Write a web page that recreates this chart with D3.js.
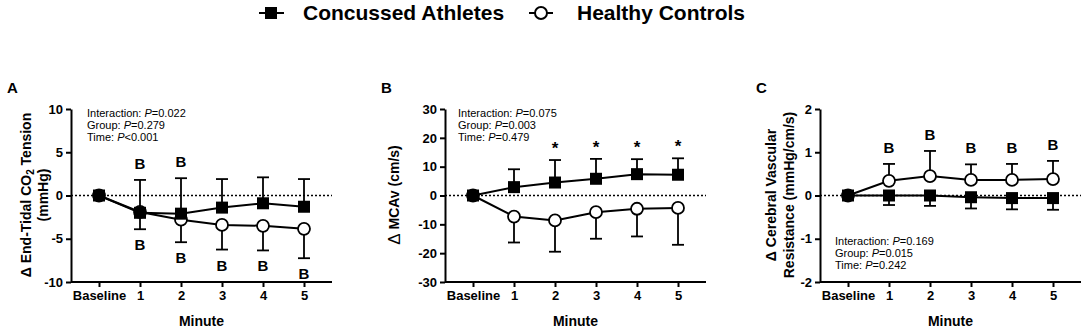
<!DOCTYPE html>
<html>
<head>
<meta charset="utf-8">
<script src="https://d3js.org/d3.v7.min.js"></script>
<style>
  body { margin: 0; background: #fff; }
  svg { font-family: "Liberation Sans", Arial, sans-serif; display: block; }
</style>
</head>
<body>
<div id="chart"></div>
<script>
// x categories
var minutes = ["Baseline", "1", "2", "3", "4", "5"];

// panel A - end-tidal CO2
var etco2Concussed = [0, -2.0, -2.1, -1.4, -0.9, -1.3];
var etco2ConcussedSD = [0, 3.8, 4.1, 3.3, 3.0, 3.2];
var etco2Controls = [0, -1.9, -2.8, -3.4, -3.5, -3.85];
var etco2ControlsSD = [0, 2.0, 2.6, 2.85, 2.85, 3.4];

// panel B - MCAv
var mcavConcussed = [0, 2.9, 4.5, 5.8, 7.4, 7.2];
var mcavConcussedSD = [0, 6.2, 7.8, 6.9, 5.2, 5.7];
var mcavControls = [0, -7.3, -8.65, -5.8, -4.6, -4.3];
var mcavControlsSD = [0, 9.0, 10.85, 9.2, 9.6, 12.8];

// panel C - CVR
var cvrConcussed = [0, 0, 0, -0.04, -0.06, -0.06];
var cvrConcussedSD = [0, 0.22, 0.24, 0.26, 0.26, 0.27];
var cvrControls = [0, 0.34, 0.45, 0.36, 0.36, 0.38];
var cvrControlsSD = [0, 0.39, 0.58, 0.36, 0.37, 0.42];

var ticksA = [-10, -5, 0, 5, 10];
var ticksB = [-30, -20, -10, 0, 10, 20, 30];
var ticksC = [-2, -1, 0, 1, 2];

var statsA = [["Interaction: ", "=0.022"], ["Group: ", "=0.279"], ["Time: ", "<0.001"]];
var statsB = [["Interaction: ", "=0.075"], ["Group: ", "=0.003"], ["Time: ", "=0.479"]];
var statsC = [["Interaction: ", "=0.169"], ["Group: ", "=0.015"], ["Time: ", "=0.242"]];

var width = 1084, height = 329;
var svg = d3.select("#chart").append("svg")
    .attr("width", width).attr("height", height);

// legend
var lg = svg.append("g");
lg.append("line").attr("x1", 259).attr("x2", 284).attr("y1", 13).attr("y2", 13)
    .attr("stroke", "#000").attr("stroke-width", 2);
lg.append("rect").attr("x", 265).attr("y", 7).attr("width", 12).attr("height", 12).attr("fill", "#000");
lg.append("text").attr("x", 303).attr("y", 20).attr("font-size", 21).attr("font-weight", "bold")
    .text("Concussed Athletes");
lg.append("line").attr("x1", 529).attr("x2", 553).attr("y1", 13).attr("y2", 13)
    .attr("stroke", "#000").attr("stroke-width", 2);
lg.append("circle").attr("cx", 541).attr("cy", 13).attr("r", 6)
    .attr("fill", "#fff").attr("stroke", "#000").attr("stroke-width", 2);
lg.append("text").attr("x", 577).attr("y", 20).attr("font-size", 21).attr("font-weight", "bold")
    .text("Healthy Controls");

function drawPanel(p) {
    var g = svg.append("g");
    var x = d3.scaleLinear().domain([0, 5]).range([p.x0 + 28, p.x0 + 28 + 205]);
    var xEnd = p.x0 + 261;
    var y = d3.scaleLinear().domain(p.domain).range([282, 109]);

    // panel letter
    g.append("text").attr("x", p.letterX).attr("y", 93).attr("font-size", 15)
        .attr("font-weight", "bold").text(p.letter);

    // zero line
    g.append("line").attr("x1", p.x0).attr("x2", xEnd).attr("y1", y(0)).attr("y2", y(0))
        .attr("stroke", "#000").attr("stroke-width", 1.5).attr("stroke-dasharray", "2,2");

    // y axis
    var yAxis = g.append("g").attr("transform", "translate(" + p.x0 + ",0)")
        .call(d3.axisLeft(y).tickValues(p.ticks).tickFormat(function(d) { return String(d); })
            .tickSize(5).tickPadding(3).tickSizeOuter(0));
    // x axis
    var xAxis = g.append("g").attr("transform", "translate(0,282)")
        .call(d3.axisBottom(x).tickValues(d3.range(6)).tickFormat(function(i) { return minutes[i]; })
            .tickSize(5).tickPadding(4).tickSizeOuter(0));
    xAxis.select(".domain").attr("d", "M" + p.x0 + ",0H" + xEnd);
    [yAxis, xAxis].forEach(function(a) {
        a.select(".domain").attr("stroke-width", 2);
        a.selectAll(".tick line").attr("stroke-width", 2);
        a.selectAll(".tick text").attr("font-size", 13).attr("font-weight", "bold")
            .attr("font-family", "'Liberation Sans', Arial, sans-serif").attr("fill", "#000");
    });
    xAxis.selectAll(".tick text").attr("dy", "0.71em");

    g.append("text").attr("x", (p.x0 + xEnd) / 2).attr("y", 326).attr("text-anchor", "middle")
        .attr("font-size", 14).attr("font-weight", "bold").text("Minute");

    // y label
    p.ylabel.forEach(function(line, i) {
        var t = g.append("text").attr("transform", "translate(" + p.ylabelX[i] + ",195) rotate(-90)")
            .attr("text-anchor", "middle").attr("dominant-baseline", "central")
            .attr("font-size", 14).attr("font-weight", "bold");
        line.forEach(function(s) {
            var ts = t.append("tspan").text(s.t);
            if (s.sub) ts.attr("font-size", 10).attr("dy", 4);
            if (s.after) ts.attr("dy", -4);
            if (s.big) ts.attr("font-size", 17).attr("font-weight", "normal");
        });
    });

    // stats text
    p.stats.forEach(function(s, i) {
        var t = g.append("text").attr("x", p.statsX).attr("y", p.statsY + i * 12).attr("font-size", 11);
        t.append("tspan").text(s[0]);
        t.append("tspan").attr("font-style", "italic").text("P");
        t.append("tspan").text(s[1]);
    });

    var line = d3.line().x(function(d, i) { return x(i); }).y(function(d) { return y(d); });

    function series(vals, sds, dir, filled, marks) {
        var s = g.append("g");
        s.selectAll("line.err").data(vals).join("line").attr("class", "err")
            .attr("x1", function(d, i) { return x(i); }).attr("x2", function(d, i) { return x(i); })
            .attr("y1", function(d) { return y(d); })
            .attr("y2", function(d, i) { return y(d + dir * sds[i]); })
            .attr("stroke", "#000").attr("stroke-width", 1.8)
            .attr("display", function(d, i) { return sds[i] ? null : "none"; });
        s.selectAll("line.cap").data(vals).join("line").attr("class", "cap")
            .attr("x1", function(d, i) { return x(i) - 6; }).attr("x2", function(d, i) { return x(i) + 6; })
            .attr("y1", function(d, i) { return y(d + dir * sds[i]); })
            .attr("y2", function(d, i) { return y(d + dir * sds[i]); })
            .attr("stroke", "#000").attr("stroke-width", 1.8)
            .attr("display", function(d, i) { return sds[i] ? null : "none"; });
        s.append("path").datum(vals).attr("d", line).attr("fill", "none")
            .attr("stroke", "#000").attr("stroke-width", 2);
        if (filled) {
            s.selectAll("rect").data(vals).join("rect")
                .attr("x", function(d, i) { return x(i) - 6; }).attr("y", function(d) { return y(d) - 6; })
                .attr("width", 12).attr("height", 12).attr("fill", "#000");
        } else {
            s.selectAll("circle").data(vals).join("circle")
                .attr("cx", function(d, i) { return x(i); }).attr("cy", function(d) { return y(d); })
                .attr("r", 6).attr("fill", "#fff").attr("stroke", "#000").attr("stroke-width", 1.8);
        }
        if (marks) {
            s.selectAll("text.mark").data(vals).join("text").attr("class", "mark")
                .attr("x", function(d, i) { return x(i); })
                .attr("y", function(d, i) {
                    var tip = y(d + dir * sds[i]);
                    if (marks[i] === "*") return tip - 6;
                    return dir > 0 ? tip - 11 : tip + 21;
                })
                .attr("text-anchor", "middle").attr("font-size", marks.indexOf("*") >= 0 ? 17 : 15)
                .attr("font-weight", "bold")
                .text(function(d, i) { return marks[i]; });
        }
    }

    series(p.ctrl, p.ctrlSD, p.ctrlDir, false, p.ctrlMarks);
    series(p.conc, p.concSD, p.concDir, true, p.concMarks);
}

drawPanel({
    x0: 71, letter: "A", letterX: 7, domain: [-10, 10], ticks: ticksA,
    ylabel: [[{t: "Δ End-Tidal CO"}, {t: "2", sub: true}, {t: " Tension", after: true}], [{t: "(mmHg)"}]],
    ylabelX: [26, 43], stats: statsA, statsX: 87, statsY: 117,
    conc: etco2Concussed, concSD: etco2ConcussedSD, concDir: 1, concMarks: ["", "B", "B", "", "", ""],
    ctrl: etco2Controls, ctrlSD: etco2ControlsSD, ctrlDir: -1, ctrlMarks: ["", "B", "B", "B", "B", "B"]
});
drawPanel({
    x0: 445, letter: "B", letterX: 381, domain: [-30, 30], ticks: ticksB,
    ylabel: [[{t: "Δ", big: true}, {t: " MCAv (cm/s)"}]],
    ylabelX: [394], stats: statsB, statsX: 458, statsY: 117,
    conc: mcavConcussed, concSD: mcavConcussedSD, concDir: 1, concMarks: ["", "", "*", "*", "*", "*"],
    ctrl: mcavControls, ctrlSD: mcavControlsSD, ctrlDir: -1, ctrlMarks: null
});
drawPanel({
    x0: 820, letter: "C", letterX: 756, domain: [-2, 2], ticks: ticksC,
    ylabel: [[{t: "Δ Cerebral Vascular"}], [{t: "Resistance (mmHg/cm/s)"}]],
    ylabelX: [771, 789], stats: statsC, statsX: 835, statsY: 245,
    conc: cvrConcussed, concSD: cvrConcussedSD, concDir: -1, concMarks: null,
    ctrl: cvrControls, ctrlSD: cvrControlsSD, ctrlDir: 1, ctrlMarks: ["", "B", "B", "B", "B", "B"]
});
</script>
</body>
</html>
